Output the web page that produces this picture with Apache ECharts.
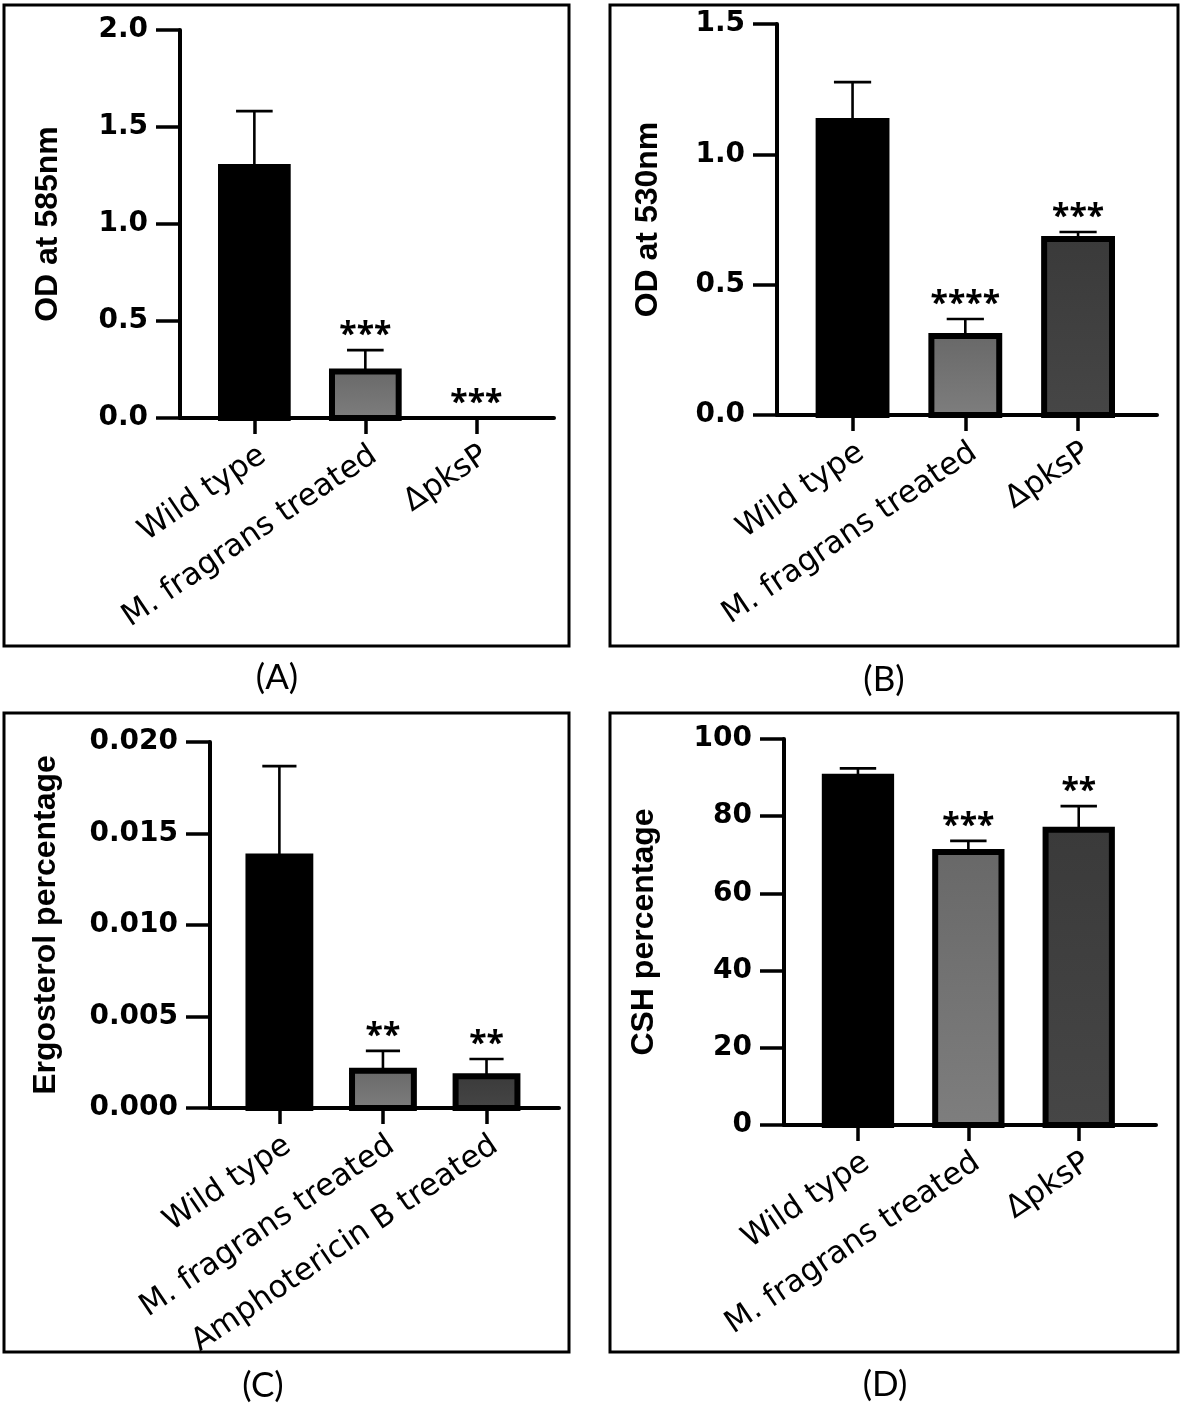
<!DOCTYPE html>
<html>
<head>
<meta charset="utf-8">
<script src="https://cdn.jsdelivr.net/npm/echarts@6/dist/echarts.min.js"></script>
<style>
html,body{margin:0;padding:0;background:#fff;}
#chart{width:1181px;height:1415px;}
</style>
</head>
<body>
<div id="chart"></div>
<script>
// ---------- data ----------
const catsA = ['Wild type', 'M. fragrans treated', 'ΔpksP'];
const meanA = [1.294, 0.24, 0];
const sdA = [0.288, 0.11, 0];
const sigA = ['', '***', '***'];
const yLabelsA = ['0.0', '0.5', '1.0', '1.5', '2.0'];

const catsB = ['Wild type', 'M. fragrans treated', 'ΔpksP'];
const meanB = [1.128, 0.303, 0.675];
const sdB = [0.149, 0.065, 0.027];
const sigB = ['', '****', '***'];
const yLabelsB = ['0.0', '0.5', '1.0', '1.5'];

const catsC = ['Wild type', 'M. fragrans treated', 'Amphotericin B treated'];
const meanC = [0.01375, 0.00203, 0.00174];
const sdC = [0.00493, 0.00109, 0.00094];
const sigC = ['', '**', '**'];
const yLabelsC = ['0.000', '0.005', '0.010', '0.015', '0.020'];

const catsD = ['Wild type', 'M. fragrans treated', 'ΔpksP'];
const meanD = [90.2, 70.7, 76.5];
const sdD = [2.2, 2.9, 6.1];
const sigD = ['', '***', '**'];
const yLabelsD = ['0', '20', '40', '60', '80', '100'];

const panelLabels = ['(A)', '(B)', '(C)', '(D)'];
const yTitles = ['OD at 585nm', 'OD at 530nm', 'Ergosterol percentage', 'CSH percentage'];

// ---------- styling ----------
const chart = echarts.init(document.getElementById('chart'), null, {renderer: 'canvas'});
const G = echarts.graphic;
function fills() {
  return [
    '#000000',
    new G.LinearGradient(0, 0, 0, 1, [{offset: 0, color: '#686868'}, {offset: 1, color: '#7e7e7e'}]),
    new G.LinearGradient(0, 0, 0, 1, [{offset: 0, color: '#3a3a3a'}, {offset: 1, color: '#464646'}])
  ];
}

function makeRender(sig) {
  const f = fills();
  return function (params, api) {
    const i = params.dataIndex;
    const idx = api.value(0), mean = api.value(1), sd = api.value(2);
    const base = api.coord([idx, 0]);
    const top = api.coord([idx, mean]);
    const errTop = api.coord([idx, mean + sd]);
    const unit = api.size([1, 0])[0];
    const bw = unit * 0.655 - 6;
    const cap = unit * 0.165;
    const ch = [];
    if (mean > 0) {
      ch.push({type: 'rect', shape: {x: base[0] - bw / 2, y: top[1], width: bw, height: base[1] - top[1]},
        style: {fill: f[i], stroke: '#000', lineWidth: 6}});
    }
    if (sd > 0) {
      ch.push({type: 'line', shape: {x1: top[0], y1: top[1], x2: errTop[0], y2: errTop[1]},
        style: {stroke: '#000', lineWidth: 2.6}});
      ch.push({type: 'line', shape: {x1: errTop[0] - cap, y1: errTop[1], x2: errTop[0] + cap, y2: errTop[1]},
        style: {stroke: '#000', lineWidth: 2.6}});
    }
    if (sig[i]) {
      const ref = sd > 0 ? errTop[1] : top[1];
      ch.push({type: 'text', style: {text: sig[i], x: base[0], y: ref - 14, align: 'center', verticalAlign: 'middle',
        fontFamily: 'Noto Sans', fontWeight: 'bold', fontSize: 32, fill: '#000'}});
    }
    return {type: 'group', children: ch};
  };
}

const panels = [
  {cats: catsA, mean: meanA, sd: sdA, sig: sigA, yl: yLabelsA, max: 2, step: 0.5,
   grid: {left: 180, top: 30, width: 374, height: 388}, nameGap: 116},
  {cats: catsB, mean: meanB, sd: sdB, sig: sigB, yl: yLabelsB, max: 1.5, step: 0.5,
   grid: {left: 777, top: 24, width: 380, height: 391}, nameGap: 113},
  {cats: catsC, mean: meanC, sd: sdC, sig: sigC, yl: yLabelsC, max: 0.02, step: 0.005,
   grid: {left: 210, top: 742, width: 349, height: 366}, nameGap: 148},
  {cats: catsD, mean: meanD, sd: sdD, sig: sigD, yl: yLabelsD, max: 100, step: 20,
   grid: {left: 784, top: 739, width: 372, height: 386}, nameGap: 124}
];

const grids = [], xAxes = [], yAxes = [], series = [];
panels.forEach((p, k) => {
  grids.push(Object.assign({containLabel: false, outerBoundsMode: 'none'}, p.grid));
  xAxes.push({
    gridIndex: k, type: 'value', min: -0.67, max: 2.7,
    axisLine: {show: true, onZero: false, lineStyle: {color: '#000', width: 4}},
    axisTick: {show: true, customValues: [0, 1, 2], length: 16, lineStyle: {color: '#000', width: 3.5}},
    axisLabel: {show: true, customValues: [0, 1, 2], interval: 0, rotate: 34, margin: 22, align: 'right', verticalAlign: 'top',
      fontFamily: 'DejaVu Sans', fontSize: 31, color: '#000', formatter: v => p.cats[Math.round(v)]},
    splitLine: {show: false}
  });
  yAxes.push({
    gridIndex: k, type: 'value', min: 0, max: p.max, interval: p.step,
    axisLine: {show: true, onZero: false, lineStyle: {color: '#000', width: 4}},
    axisTick: {show: true, length: 24, lineStyle: {color: '#000', width: 3.5}},
    axisLabel: {margin: 32, color: '#000', fontFamily: 'DejaVu Sans', fontWeight: 'bold', fontSize: 28,
      formatter: v => p.yl[Math.round(v / p.step)]},
    splitLine: {show: false},
    name: yTitles[k], nameLocation: 'middle', nameGap: p.nameGap,
    nameTextStyle: {fontFamily: 'Liberation Sans', fontWeight: 'bold', fontSize: 32, color: '#000'}
  });
  series.push({
    type: 'custom', xAxisIndex: k, yAxisIndex: k,
    renderItem: makeRender(p.sig),
    data: p.mean.map((m, i) => [i, m, p.sd[i]]),
    clip: false, silent: true
  });
});

const boxes = [[4, 5, 565, 641], [610, 5, 568, 641], [4, 713, 565, 639], [610, 713, 568, 639]];
const labelPos = [[277, 678], [884, 680], [263, 1386], [885, 1385]];
const graphic = [];
boxes.forEach(b => graphic.push({type: 'rect', shape: {x: b[0], y: b[1], width: b[2], height: b[3]},
  style: {fill: 'none', stroke: '#000', lineWidth: 3}, silent: true}));
labelPos.forEach((pp, k) => graphic.push({type: 'text', x: pp[0], y: pp[1],
  style: {text: panelLabels[k], fontFamily: 'Lato', fontSize: 35, fill: '#000', align: 'center', verticalAlign: 'middle'}}));

chart.setOption({
  animation: false,
  backgroundColor: '#fff',
  grid: grids, xAxis: xAxes, yAxis: yAxes, series: series, graphic: graphic
});
</script>
</body>
</html>
